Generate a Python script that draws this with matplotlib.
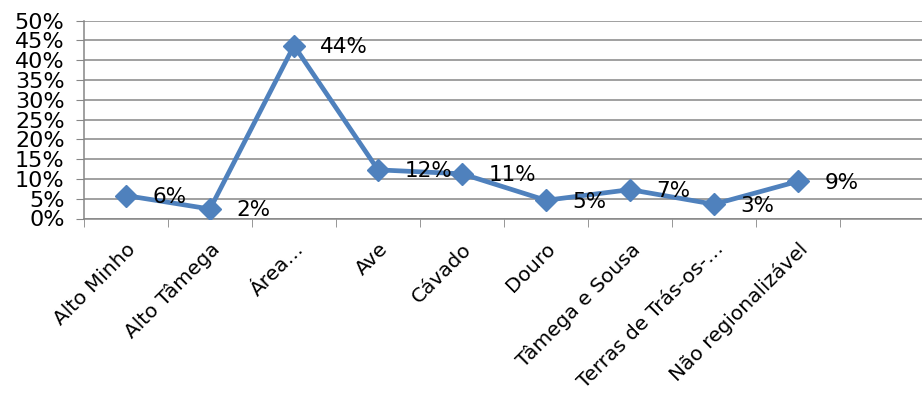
import matplotlib.pyplot as plt
from matplotlib.ticker import FuncFormatter

# data
regions = ['Alto Minho', 'Alto Tâmega', 'Área…', 'Ave', 'Cávado', 'Douro',
           'Tâmega e Sousa', 'Terras de Trás-os-…', 'Não regionalizável']
shares = [5.8, 2.4, 43.7, 12.3, 11.3, 4.6, 7.3, 3.6, 9.4]
labels = ['6%', '2%', '44%', '12%', '11%', '5%', '7%', '3%', '9%']

plt.rcParams['font.family'] = ['DejaVu Sans']

fig = plt.figure(figsize=(9.22, 4.01), dpi=100)
ax = fig.add_axes([84 / 922, (401 - 218.5) / 401, 840 / 922, 197.8 / 401])

x = list(range(len(regions)))
ax.plot(x, shares, color='#4F81BD', lw=3.4, marker='D', markersize=11,
        markeredgecolor='#4F81BD', zorder=3)

for xi, yi, lab in zip(x, shares, labels):
    ax.annotate(lab, (xi, yi), xytext=(19, -1), textcoords='offset points',
                ha='left', va='center', fontsize=15.5, color='black', zorder=4)

ax.set_xlim(-0.5, 9.5)
ax.set_ylim(0, 50)
ax.set_yticks(range(0, 51, 5))
ax.yaxis.set_major_formatter(FuncFormatter(lambda v, p: f'{int(v)}%'))
ax.tick_params(axis='y', labelsize=16, length=6, color='#868686', pad=8)

# labels at category centres, tick marks at category boundaries
ax.set_xticks(x)
ax.set_xticklabels(regions, rotation=45, ha='right', rotation_mode='anchor',
                   fontsize=14.5)
ax.tick_params(axis='x', which='major', length=0, pad=15)
ax.set_xticks([i - 0.5 for i in range(11)], minor=True)
ax.tick_params(axis='x', which='minor', length=6, color='#868686')

ax.grid(axis='y', color='#868686', lw=1.1)
ax.set_axisbelow(True)
for s in ['top', 'right']:
    ax.spines[s].set_visible(False)
for s in ['left', 'bottom']:
    ax.spines[s].set_color('#868686')
    ax.spines[s].set_linewidth(1.1)

fig.savefig('out.png', dpi=100)
